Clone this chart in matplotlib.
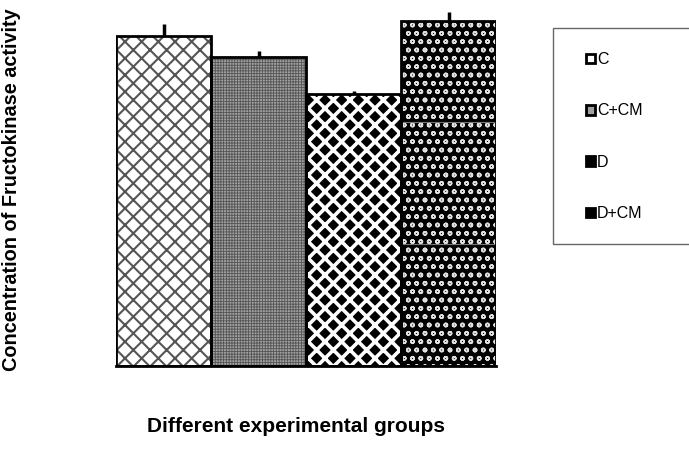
import warnings
import matplotlib
matplotlib.use("Agg")
import matplotlib.pyplot as plt
from matplotlib.patches import Rectangle, Patch

warnings.filterwarnings("ignore")

groups = ["C", "C+CM", "D", "D+CM"]
values = [2.705, 2.533, 2.23, 2.828]
errors = [0.098, 0.05, 0.025, 0.07]
ylabel_text = "Concentration of Fructokinase activity"
xlabel_text = "Different experimental groups"

# style per group: (facecolor, hatchcolor, hatch, hatch linewidth)
styles = [
    ("white", "#555555", "xx", 1.5),
    ("#a0a0a0", "#555555", "++++++", 0.6),
    ("black", "white", "xx", 2.6),
    ("black", "#e0e0e0", "oo", 1.1),
]

plt.rcParams["font.family"] = ["Liberation Sans", "DejaVu Sans"]

fig = plt.figure(figsize=(6.89, 4.66), dpi=100)
W, H = 689, 466
ax = fig.add_axes([116 / W, 1 - 366 / H, 380 / W, 366 / H])

x = list(range(len(groups)))
for xi, v, st in zip(x, values, styles):
    fc, hc, hatch, hlw = st
    plt.rcParams["hatch.linewidth"] = hlw
    b = ax.bar(xi, v, width=1.0, color=fc, edgecolor=hc, hatch=hatch,
               linewidth=0, zorder=1)
    for p in b:
        if hasattr(p, "set_hatch_linewidth"):
            p.set_hatch_linewidth(hlw)

ax.bar(x, values, width=1.0, fill=False, edgecolor="black", linewidth=2.0,
       zorder=3)
ax.errorbar(x, values, yerr=[[0] * len(errors), errors], fmt="none",
            ecolor="black", elinewidth=2.5, capsize=0, zorder=4)

# faint gridlines visible through last bar
ax.hlines([1, 2], x[-1] - 0.5, x[-1] + 0.5, colors="#777777", linewidth=0.8,
          zorder=2)

ax.set_xlim(-0.5, len(groups) - 0.5)
ax.set_ylim(0, 3)
ax.set_xticks([])
ax.set_yticks([])
for s in ["top", "right", "left"]:
    ax.spines[s].set_visible(False)
ax.spines["bottom"].set_linewidth(2.0)

fig.text(12 / W, 1 - 190 / H, ylabel_text, rotation=90, ha="center",
         va="center", fontsize=14.3, fontweight="bold")
fig.text(296 / W, 1 - 427 / H, xlabel_text, ha="center", va="center",
         fontsize=15, fontweight="bold")

# legend frame
fig.patches.append(Rectangle((553 / W, 1 - 244 / H), 200 / W, 216 / H,
                             transform=fig.transFigure, fill=False,
                             edgecolor="#666666", linewidth=1.0))
handles = [Patch(facecolor=st[0], edgecolor="black", linewidth=2.0)
           for st in styles]
fig.legend(handles, groups, loc="upper left",
           bbox_to_anchor=(586 / W, 1 - 52 / H), frameon=False,
           fontsize=11.5, handlelength=0.55, handleheight=0.55,
           handletextpad=0.15, labelspacing=2.28, borderpad=0,
           borderaxespad=0)

fig.savefig("out.png", dpi=100)
